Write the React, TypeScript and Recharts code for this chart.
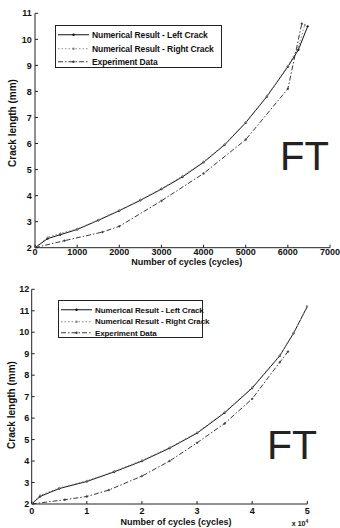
import React from 'react';
import { LineChart, Line, XAxis, YAxis, Legend } from 'recharts';

// ---------- Top chart data ----------
const topLeftX = [0, 300, 600, 1000, 1500, 2000, 2500, 3000, 3500, 4000, 4500, 5000, 5500, 6000, 6250, 6470];
const topLeftY = [2.0, 2.35, 2.5, 2.7, 3.05, 3.42, 3.82, 4.25, 4.72, 5.28, 5.95, 6.8, 7.8, 8.95, 9.6, 10.5];
const topRightX = [0, 300, 600, 1000, 1500, 2000, 2500, 3000, 3500, 4000, 4500, 5000, 5500, 6000, 6250, 6400];
const topRightY = [2.0, 2.4, 2.55, 2.72, 3.07, 3.44, 3.84, 4.27, 4.75, 5.3, 5.97, 6.82, 7.82, 8.98, 9.7, 10.55];
const topExpX = [0, 700, 1600, 2000, 3000, 4000, 5000, 6000, 6330];
const topExpY = [2.0, 2.27, 2.6, 2.82, 3.8, 4.85, 6.15, 8.1, 10.6];
const topXTicks = [0, 1000, 2000, 3000, 4000, 5000, 6000, 7000];
const topYTicks = [2, 3, 4, 5, 6, 7, 8, 9, 10, 11];

// ---------- Bottom chart data (cycles) ----------
const botLeftX = [0, 1500, 5000, 10000, 15000, 20000, 25000, 30000, 35000, 40000, 45000, 47500, 50000];
const botLeftY = [2.0, 2.35, 2.72, 3.05, 3.5, 4.0, 4.6, 5.3, 6.25, 7.4, 8.9, 9.95, 11.2];
const botRightX = [0, 1500, 5000, 10000, 15000, 20000, 25000, 30000, 35000, 40000, 45000, 47500, 50000];
const botRightY = [2.0, 2.4, 2.75, 3.08, 3.53, 4.03, 4.63, 5.33, 6.28, 7.43, 8.92, 9.97, 11.2];
const botExpX = [0, 6000, 10000, 14000, 20000, 25000, 30000, 35000, 40000, 45000, 46500];
const botExpY = [2.0, 2.2, 2.35, 2.65, 3.3, 4.0, 4.85, 5.75, 6.9, 8.6, 9.1];
const botXTicks = [0, 10000, 20000, 30000, 40000, 50000];
const botYTicks = [2, 3, 4, 5, 6, 7, 8, 9, 10, 11, 12];

const seriesNames = ['Numerical Result - Left Crack', 'Numerical Result - Right Crack', 'Experiment Data'];
const seriesColors = ['#111111', '#8a8a8a', '#3a3a3a'];
const seriesDash = ['', '1.5 2', '5 2 1.5 2'];

const zip = (xs: number[], ys: number[]) => xs.map((x, i) => ({ x, y: ys[i] }));

const FONT = '"Liberation Sans", Arial, sans-serif';
const tickStyle = { fontSize: 9, fontWeight: 700, fill: '#111', fontFamily: FONT };

function makeLegend(rowH: number, fontSize: number, top0: number, textX: number) {
  return () => (
    <div
      style={{
        border: '1px solid #222',
        background: '#fff',
        boxSizing: 'border-box',
        width: '100%',
        height: '100%',
        position: 'relative',
        fontFamily: FONT,
      }}
    >
      {seriesNames.map((n, i) => (
        <div
          key={n}
          style={{
            position: 'absolute',
            left: 1,
            top: top0 + i * rowH - rowH / 2,
            height: rowH,
            display: 'flex',
            alignItems: 'center',
            whiteSpace: 'nowrap',
          }}
        >
          <svg width={textX - 2} height={rowH} style={{ display: 'block' }}>
            <line
              x1={1}
              x2={textX - 5}
              y1={rowH / 2}
              y2={rowH / 2}
              stroke={seriesColors[i]}
              strokeWidth={1}
              strokeDasharray={seriesDash[i] || undefined}
            />
            <circle cx={(textX - 4) / 2} cy={rowH / 2} r={1.2} fill={seriesColors[i]} />
          </svg>
          <span style={{ fontSize, fontWeight: 700, color: '#111', letterSpacing: -0.1 }}>{n}</span>
        </div>
      ))}
    </div>
  );
}

const renderLines = (sets: { x: number; y: number }[][]) =>
  sets.map((d, i) => (
    <Line
      key={seriesNames[i]}
      data={d}
      dataKey="y"
      name={seriesNames[i]}
      type="linear"
      stroke={seriesColors[i]}
      strokeWidth={1}
      strokeDasharray={seriesDash[i] || undefined}
      dot={{ r: 0.9, fill: seriesColors[i], stroke: seriesColors[i], strokeWidth: 0.5 }}
      isAnimationActive={false}
      legendType="line"
    />
  ));

export default function App() {
  const topSets = [zip(topLeftX, topLeftY), zip(topRightX, topRightY), zip(topExpX, topExpY)];
  const botSets = [zip(botLeftX, botLeftY), zip(botRightX, botRightY), zip(botExpX, botExpY)];
  const titleStyle: React.CSSProperties = {
    position: 'absolute',
    fontFamily: FONT,
    fontWeight: 700,
    color: '#111',
    whiteSpace: 'nowrap',
    lineHeight: 1,
  };
  return (
    <div style={{ position: 'fixed', left: 0, top: 0, width: 340, height: 528, background: '#fff', overflow: 'hidden' }}>
      {/* Top chart */}
      <div style={{ position: 'absolute', left: 0, top: 0 }}>
        <LineChart width={370} height={264} margin={{ top: 13.3, bottom: 0.3, left: 5, right: 40 }}>
          <XAxis
            type="number"
            dataKey="x"
            domain={[0, 7000]}
            ticks={topXTicks}
            allowDataOverflow
            height={16}
            tickSize={-3}
            tickMargin={3.8}
            tick={tickStyle}
            stroke="#222"
            interval={0}
          />
          <YAxis
            type="number"
            domain={[2, 11]}
            ticks={topYTicks}
            allowDataOverflow
            width={30}
            tickSize={-3}
            tickMargin={6.3}
            tick={tickStyle}
            stroke="#222"
            interval={0}
          />
          <Legend
            layout="horizontal"
            verticalAlign="middle"
            align="center"
            content={makeLegend(13.5, 8.5, 9, 37)}
            wrapperStyle={{ position: 'absolute', left: 55, top: 25, width: 167, height: 43, bottom: 'auto', right: 'auto' }}
          />
          {renderLines(topSets)}
        </LineChart>
      </div>
      <div style={{ ...titleStyle, fontSize: 9, left: 186.7, top: 261.5, transform: 'translate(-50%,-50%)' }}>
        Number of cycles (cycles)
      </div>
      <div
        style={{ ...titleStyle, fontSize: 10, left: 13, top: 123, transform: 'translate(-50%,-50%) rotate(-90deg)' }}
      >
        Crack length (mm)
      </div>
      <div
        style={{
          position: 'absolute',
          left: 280,
          top: 136,
          fontSize: 40,
          lineHeight: '40px',
          fontFamily: FONT,
          color: '#222',
          fontWeight: 400,
        }}
      >
        FT
      </div>

      {/* Bottom chart */}
      <div style={{ position: 'absolute', left: 0, top: 264 }}>
        <LineChart width={370} height={264} margin={{ top: 25.3, bottom: 4, left: 1.7, right: 62.7 }}>
          <XAxis
            type="number"
            dataKey="x"
            domain={[0, 50000]}
            ticks={botXTicks}
            tickFormatter={(v: number) => String(v / 10000)}
            allowDataOverflow
            height={20}
            tickSize={-3}
            tickMargin={6.5}
            tick={tickStyle}
            stroke="#222"
            interval={0}
          />
          <YAxis
            type="number"
            domain={[2, 12]}
            ticks={botYTicks}
            allowDataOverflow
            width={30}
            tickSize={-3}
            tickMargin={5.4}
            tick={tickStyle}
            stroke="#222"
            interval={0}
          />
          <Legend
            layout="horizontal"
            verticalAlign="middle"
            align="center"
            content={makeLegend(11.5, 8, 9, 37)}
            wrapperStyle={{ position: 'absolute', left: 58, top: 36, width: 145, height: 38, bottom: 'auto', right: 'auto' }}
          />
          {renderLines(botSets)}
        </LineChart>
      </div>
      <div style={{ ...titleStyle, fontSize: 9, left: 176, top: 522, transform: 'translate(-50%,-50%)' }}>
        Number of cycles (cycles)
      </div>
      <div
        style={{ ...titleStyle, fontSize: 10, left: 11.7, top: 405, transform: 'translate(-50%,-50%) rotate(-90deg)' }}
      >
        Crack length (mm)
      </div>
      <div style={{ ...titleStyle, fontSize: 7, left: 300, top: 523, transform: 'translate(-50%,-50%)' }}>
        x 10<sup style={{ fontSize: 5 }}>4</sup>
      </div>
      <div
        style={{
          position: 'absolute',
          left: 267,
          top: 425,
          fontSize: 41,
          lineHeight: '41px',
          fontFamily: FONT,
          color: '#222',
          fontWeight: 400,
        }}
      >
        FT
      </div>
    </div>
  );
}
